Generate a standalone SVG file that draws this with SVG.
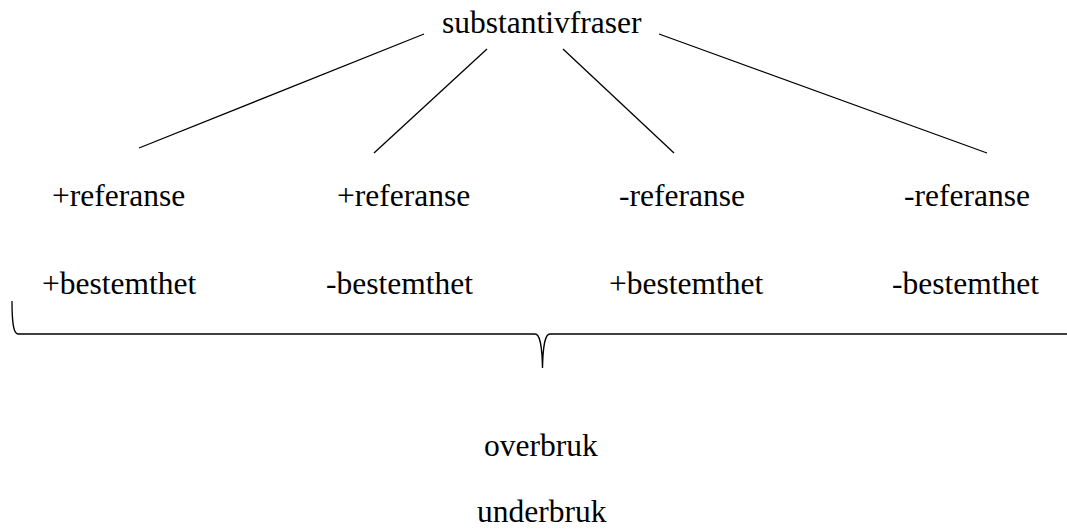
<svg xmlns="http://www.w3.org/2000/svg" width="1067" height="529" viewBox="0 0 1067 529">
<style>
.c{stroke:#000;stroke-width:1.3;fill:none}
</style>
<rect width="1067" height="529" fill="#fff"/>
<g id="connectors">
<line class="c" x1="424" y1="34" x2="139" y2="148"/>
<line class="c" x1="487" y1="49" x2="374" y2="153"/>
<line class="c" x1="563" y1="49" x2="674" y2="153"/>
<line class="c" x1="659" y1="34" x2="987" y2="153"/>
<path class="c" d="M12,301 C12,320 13,334 18,334 L535,334 C540,334 542,345 542.5,368 C543,345 545,334 550,334 L1067,334" stroke-width="1.6"/>
</g>
<g id="root"><text x="442" y="33" font-family="Liberation Serif" font-size="31.5">substantivfraser</text></g>
<g id="n1"><text x="52" y="206" font-family="Liberation Serif" font-size="31.5">+referanse</text><text x="42" y="294" font-family="Liberation Serif" font-size="31.5">+bestemthet</text></g>
<g id="n2"><text x="337" y="206" font-family="Liberation Serif" font-size="31.5">+referanse</text><text x="326" y="294" font-family="Liberation Serif" font-size="31.5">-bestemthet</text></g>
<g id="n3"><text x="619" y="206" font-family="Liberation Serif" font-size="31.5">-referanse</text><text x="609" y="294" font-family="Liberation Serif" font-size="31.5">+bestemthet</text></g>
<g id="n4"><text x="904" y="206" font-family="Liberation Serif" font-size="31.5">-referanse</text><text x="892" y="294" font-family="Liberation Serif" font-size="31.5">-bestemthet</text></g>
<g id="overbruk"><text x="484" y="456" font-family="Liberation Serif" font-size="31.5">overbruk</text></g>
<g id="underbruk"><text x="477" y="522" font-family="Liberation Serif" font-size="31.5">underbruk</text></g>
</svg>
